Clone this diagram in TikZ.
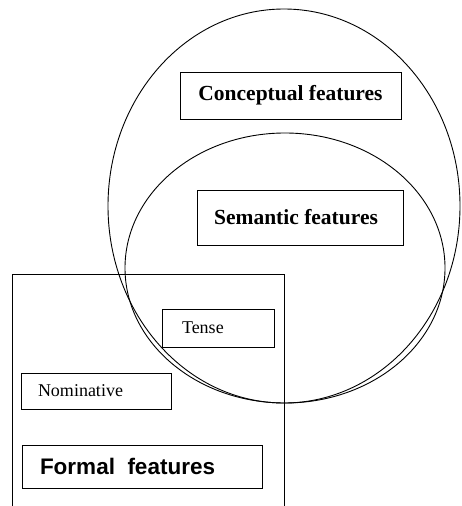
\documentclass[tikz,border=0pt]{standalone}
\usepackage{fontspec}
\setmainfont{Liberation Serif}
\newfontfamily\arialfont{Liberation Sans}
\begin{document}
\begin{tikzpicture}[x=1pt,y=-1pt,
  line width=0.9pt,
  featbox/.style={draw, fill=white, rectangle, inner sep=0pt},
  bigserif/.style={font=\fontsize{21.5}{24}\selectfont\bfseries},
  smallserif/.style={font=\fontsize{18}{20}\selectfont},
  bigsans/.style={font=\arialfont\fontsize{22.5}{25}\selectfont\bfseries}]
\useasboundingbox (0,0) rectangle (461,506);
% nested sets: conceptual contains semantic
\draw (284,206) ellipse [x radius=176pt, y radius=197pt];
\draw (285,268) ellipse [x radius=160pt, y radius=135pt];
% formal feature set, open at the bottom
\draw (12,506) |- (284,274) -- (284,506);
% labelled boxes
\node[featbox, minimum width=221pt, minimum height=47pt] (concept) at (290.5,95.5) {};
\node[bigserif] at (concept.center) {Conceptual features};
\node[featbox, minimum width=206pt, minimum height=55pt] (semantic) at (300,217.5) {};
\node[bigserif] at ([xshift=-4pt]semantic.center) {Semantic features};
\node[featbox, minimum width=112pt, minimum height=38pt] (tense) at (218,328) {};
\node[smallserif, anchor=west, inner sep=0pt] at ([xshift=20pt]tense.west) {Tense};
\node[featbox, minimum width=150pt, minimum height=36pt] (nominative) at (96,391) {};
\node[smallserif, anchor=west, inner sep=0pt] at ([xshift=17pt]nominative.west) {Nominative};
\node[featbox, minimum width=240pt, minimum height=43pt] (formal) at (142,466.5) {};
\node[bigsans, anchor=west, inner sep=0pt] at ([xshift=18pt]formal.west) {Formal\ \ features};
\end{tikzpicture}
\end{document}
